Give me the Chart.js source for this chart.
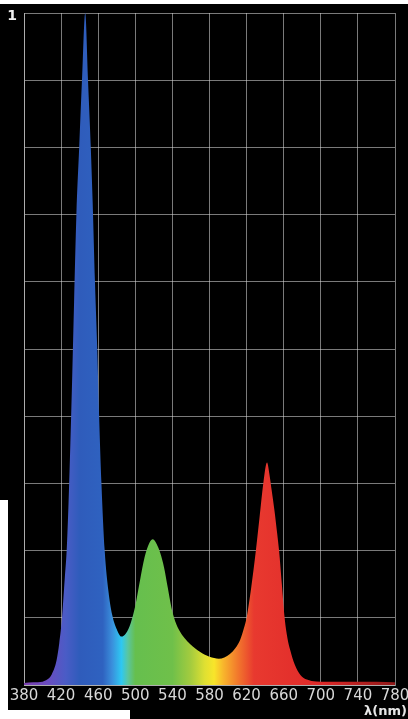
<!DOCTYPE html>
<html>
<head>
<meta charset="utf-8">
<script src="https://cdn.jsdelivr.net/npm/chart.js@4.4.0/dist/chart.umd.min.js"></script>
<style>
html, body { margin: 0; padding: 0; background: #fff; }
#wrap { position: absolute; left: 0; top: 4px; width: 408px; height: 715px; background: #000; }
#edgeLeft { position: absolute; left: 0; top: 500px; width: 8px; height: 219px; background: #fff; }
#edgeBottom { position: absolute; left: 0; top: 710px; width: 130px; height: 9px; background: #fff; }
</style>
</head>
<body>
<div id="wrap"><canvas id="myChart" width="408" height="715"></canvas></div>
<div id="edgeLeft"></div>
<div id="edgeBottom"></div>
<script>
// spectrum (relative intensity)
var wavelengths = [380, 390, 400, 405, 410, 415, 418, 421, 424, 426, 428, 430, 432, 434, 436.5, 439.5, 442.5, 446,
    449, 452, 454, 456.5, 459, 461, 463.5, 467, 471, 475, 480, 485, 490, 495, 500, 505, 510, 515, 519, 523, 527,
    531, 535, 539, 543, 548, 553, 559, 565, 570, 575, 580, 585, 590, 596, 602, 608, 613, 617, 620, 625, 630, 634,
    638, 642, 645, 647, 650, 653, 655, 658, 661, 664, 667, 672, 678, 685, 690, 700, 720, 740, 760, 780];
var intensity = [0.003, 0.004, 0.005, 0.008, 0.016, 0.036, 0.062, 0.10, 0.16, 0.20, 0.27, 0.36, 0.46, 0.57, 0.70, 0.80, 0.90, 1.0,
    0.90, 0.80, 0.72, 0.60, 0.50, 0.40, 0.30, 0.20, 0.14, 0.105, 0.083, 0.072, 0.077, 0.092, 0.118, 0.155, 0.19, 0.211, 0.217, 0.21, 0.196,
    0.175, 0.145, 0.115, 0.095, 0.080, 0.070, 0.061, 0.054, 0.049, 0.045, 0.042, 0.040, 0.039, 0.041, 0.046, 0.055, 0.067, 0.084, 0.10, 0.145, 0.20, 0.25,
    0.30, 0.331, 0.31, 0.29, 0.26, 0.225, 0.20, 0.15, 0.10, 0.07, 0.052, 0.03, 0.015, 0.008, 0.006, 0.005, 0.005, 0.005, 0.005, 0.004];
var xTicks = [380, 420, 460, 500, 540, 580, 620, 660, 700, 740, 780];
var yTicks = [0, 0.1, 0.2, 0.3, 0.4, 0.5, 0.6, 0.7, 0.8, 0.9, 1];

// colour of the fill along the wavelength axis
var spectrumStops = [
    [380, '#7b3fb0'], [405, '#6a4cc0'], [425, '#4a5cc6'], [440, '#2f5cbb'], [465, '#2f62c0'],
    [475, '#3a8fdc'], [485, '#2ec8f2'], [492, '#5ac6a0'], [500, '#66bf4e'], [540, '#6fc04a'],
    [560, '#a5cc3e'], [575, '#dfe032'], [585, '#f8e52a'], [595, '#f8b52c'], [610, '#f27a2c'],
    [628, '#e8392f'], [700, '#e02a2a'], [780, '#901818']
];

function spectrumFill(context) {
    var chart = context.chart;
    var area = chart.chartArea;
    if (!area) return null;
    var g = chart.ctx.createLinearGradient(area.left, 0, area.right, 0);
    spectrumStops.forEach(function(s) {
        g.addColorStop((s[0] - 380) / 400, s[1]);
    });
    return g;
}

var unitLabel = {
    id: 'unitLabel',
    afterDraw: function(chart) {
        var ctx = chart.ctx;
        ctx.save();
        ctx.font = 'bold 13px "DejaVu Sans"';
        ctx.fillStyle = '#e6e6e6';
        ctx.textAlign = 'right';
        ctx.textBaseline = 'alphabetic';
        ctx.fillText('λ(nm)', chart.width - 1, 711);
        ctx.restore();
    }
};

var gridColor = 'rgba(210,210,210,0.58)';

var ctx = document.getElementById('myChart').getContext('2d');
var myChart = new Chart(ctx, {
    type: 'line',
    data: {
        datasets: [{
            data: wavelengths.map(function(w, i) { return { x: w, y: intensity[i] }; }),
            backgroundColor: spectrumFill,
            borderWidth: 0,
            pointRadius: 0,
            fill: 'origin',
            cubicInterpolationMode: 'monotone'
        }]
    },
    options: {
        responsive: false,
        animation: false,
        layout: { padding: { top: 9, right: 13, bottom: 0, left: 0 } },
        plugins: { legend: { display: false }, tooltip: { enabled: false } },
        scales: {
            x: {
                type: 'linear',
                min: 380,
                max: 780,
                z: 1,
                afterBuildTicks: function(scale) {
                    scale.ticks = xTicks.map(function(v) { return { value: v }; });
                },
                afterFit: function(scale) {
                    scale.height = 34;
                    scale.paddingLeft = 0;
                    scale.paddingRight = 0;
                },
                grid: { color: gridColor, drawTicks: false },
                border: { color: gridColor },
                ticks: {
                    padding: 2,
                    maxRotation: 0,
                    autoSkip: false,
                    color: '#d8d8d8',
                    font: { family: 'DejaVu Sans', size: 15 }
                }
            },
            y: {
                min: 0,
                max: 1,
                z: 1,
                afterBuildTicks: function(scale) {
                    scale.ticks = yTicks.map(function(v) { return { value: v }; });
                },
                afterFit: function(scale) {
                    scale.width = 24;
                    scale.paddingTop = 0;
                    scale.paddingBottom = 0;
                },
                grid: { color: gridColor, drawTicks: false },
                border: { color: gridColor },
                ticks: {
                    padding: 7,
                    labelOffset: 3,
                    color: '#f0f0f0',
                    font: { family: 'DejaVu Sans', size: 14, weight: 'bold' },
                    callback: function(v) { return v === 1 ? '1' : ''; }
                }
            }
        }
    },
    plugins: [unitLabel]
});
</script>
</body>
</html>
